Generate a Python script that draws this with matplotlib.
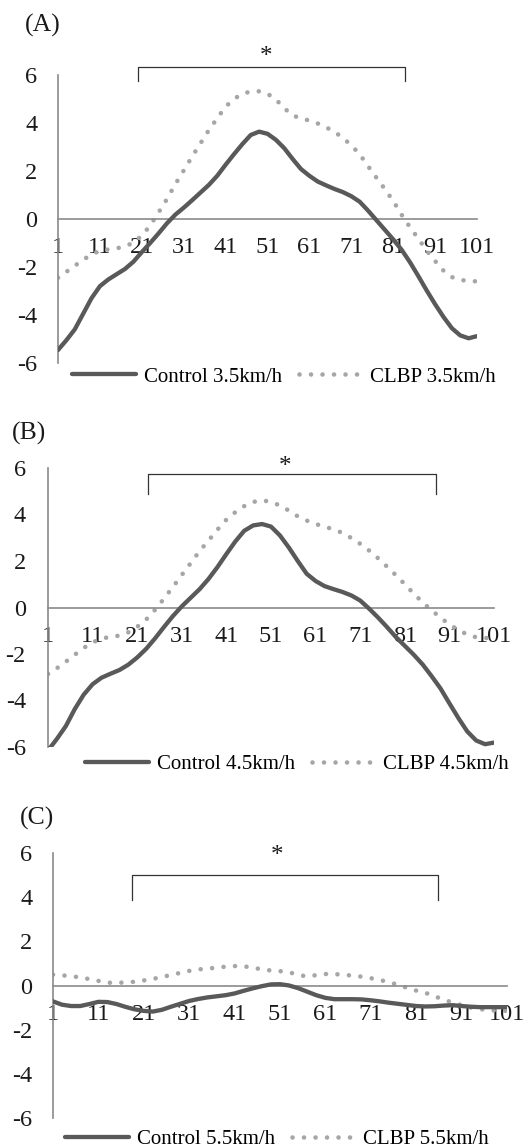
import numpy as np
import matplotlib
matplotlib.use("Agg")
import matplotlib.pyplot as plt

plt.rcParams['font.family'] = ['Liberation Serif', 'DejaVu Serif']

# percent of gait cycle, read every 2 %
pct = list(range(1, 102, 2))

control_35 = [-5.46, -5.05, -4.6, -3.95, -3.3, -2.8, -2.52, -2.3, -2.08, -1.78,
              -1.38, -1.0, -0.6, -0.18, 0.18, 0.47, 0.78, 1.1, 1.42, 1.8,
              2.26, 2.7, 3.12, 3.5, 3.64, 3.55, 3.3, 2.95, 2.5, 2.08,
              1.8, 1.56, 1.4, 1.25, 1.12, 0.95, 0.72, 0.35, -0.05, -0.45,
              -0.85, -1.28, -1.8, -2.38, -2.98, -3.55, -4.08, -4.55, -4.85, -4.97, -4.88]
clbp_35 = [-2.45, -2.2, -1.95, -1.7, -1.48, -1.32, -1.27, -1.22, -1.15, -0.98,
           -0.7, -0.27, 0.27, 0.83, 1.45, 2.02, 2.6, 3.15, 3.7, 4.2,
           4.68, 5.0, 5.22, 5.31, 5.32, 5.22, 4.98, 4.62, 4.31, 4.2,
           4.1, 3.98, 3.82, 3.63, 3.38, 3.07, 2.7, 2.2, 1.72, 1.25,
           0.75, 0.18, -0.34, -0.82, -1.32, -1.75, -2.15, -2.42, -2.54, -2.58, -2.6]

control_45 = [-6.15, -5.65, -5.1, -4.37, -3.75, -3.3, -3.02, -2.85, -2.69, -2.46,
              -2.15, -1.78, -1.33, -0.84, -0.37, 0.05, 0.42, 0.79, 1.23, 1.74,
              2.3, 2.84, 3.3, 3.53, 3.59, 3.48, 3.1, 2.58, 2.0, 1.45,
              1.14, 0.92, 0.79, 0.67, 0.52, 0.3, -0.05, -0.43, -0.84, -1.27,
              -1.65, -2.03, -2.45, -2.95, -3.48, -4.12, -4.75, -5.33, -5.72, -5.88, -5.81]
clbp_45 = [-2.86, -2.61, -2.33, -2.03, -1.74, -1.5, -1.34, -1.26, -1.21, -1.07,
           -0.83, -0.52, -0.1, 0.38, 0.88, 1.4, 1.91, 2.43, 2.88, 3.35,
           3.78, 4.1, 4.36, 4.54, 4.61, 4.54, 4.39, 4.17, 3.92, 3.74,
           3.59, 3.48, 3.36, 3.21, 2.99, 2.74, 2.45, 2.12, 1.76, 1.39,
           1.0, 0.6, 0.22, -0.12, -0.43, -0.73, -0.97, -1.16, -1.28, -1.31, -1.32]

control_55 = [-0.72, -0.87, -0.93, -0.93, -0.84, -0.74, -0.75, -0.84, -0.97, -1.08,
              -1.15, -1.18, -1.1, -0.96, -0.83, -0.7, -0.61, -0.54, -0.49, -0.44,
              -0.36, -0.24, -0.13, -0.03, 0.05, 0.06, 0.0, -0.12, -0.28, -0.44,
              -0.56, -0.62, -0.62, -0.62, -0.63, -0.67, -0.72, -0.78, -0.83, -0.88,
              -0.93, -0.95, -0.94, -0.91, -0.89, -0.93, -0.96, -0.98, -0.98, -0.98, -0.98]
clbp_55 = [0.49, 0.46, 0.42, 0.37, 0.29, 0.21, 0.13, 0.12, 0.14, 0.17,
           0.23, 0.3, 0.38, 0.48, 0.57, 0.66, 0.73, 0.76, 0.81, 0.85,
           0.88, 0.87, 0.81, 0.73, 0.68, 0.65, 0.6, 0.48, 0.41, 0.47,
           0.52, 0.52, 0.48, 0.45, 0.4, 0.33, 0.25, 0.15, 0.03, -0.11,
           -0.23, -0.33, -0.48, -0.64, -0.77, -0.89, -1.0, -1.07, -1.12, -1.14, -1.15]

speeds = ["3.5km/h", "4.5km/h", "5.5km/h"]
panel_labels = ["(A)", "(B)", "(C)"]
x_ticks = [1, 11, 21, 31, 41, 51, 61, 71, 81, 91, 101]
y_ticks = [-6, -4, -2, 0, 2, 4, 6]

# significant region (start, end) for each speed
sig_ranges = [(20.1, 83.8), (23.4, 88.0), (18.3, 85.9)]

W, H = 530, 1147
CONTROL_COLOR = '#595959'
CLBP_COLOR = '#a6a6a6'
AXIS_COLOR = '#8a8a8a'
TEXT_COLOR = '#1a1a1a'


def px(x, y):
    # pixel position -> figure fraction
    return x / W, 1 - y / H


def drawPanel(fig, rect, control, clbp, speed, label, labelPos, sig, bracketY, star, legendPos, yPad):
    left, top, right, bottom = rect
    ax = fig.add_axes([left / W, 1 - bottom / H, (right - left) / W, (bottom - top) / H])
    ax.plot(pct, control, color=CONTROL_COLOR, lw=3.1, solid_capstyle='round',
            solid_joinstyle='round', label="Control " + speed, zorder=3)
    ax.plot(pct, clbp, color=CLBP_COLOR, lw=3.3, linestyle=(0, (0.01, 2.5)),
            dash_capstyle='round', label="CLBP " + speed, zorder=2)

    ax.set_xlim(1, 101)
    ax.set_ylim(-6, 6)
    for side in ['top', 'right']:
        ax.spines[side].set_visible(False)
    ax.spines['bottom'].set_position(('data', 0))
    for side in ['bottom', 'left']:
        ax.spines[side].set_color(AXIS_COLOR)
        ax.spines[side].set_linewidth(1.2)
    ax.set_xticks(x_ticks)
    ax.set_yticks(y_ticks)
    ax.set_yticklabels([str(v) for v in y_ticks])
    ax.tick_params(axis='x', length=0, pad=13, labelsize=17.5, colors=TEXT_COLOR)
    ax.tick_params(axis='y', length=0, pad=yPad, labelsize=17.5, colors=TEXT_COLOR)
    ax.patch.set_visible(False)

    # significance bracket
    x0, x1 = sig
    yb, yt = bracketY
    ax.plot([x0, x0, x1, x1], [yb, yt, yt, yb], color='#333333', lw=0.9, clip_on=False)
    ax.text(star[0], star[1], "*", ha='center', va='center', fontsize=18,
            color=TEXT_COLOR, clip_on=False)

    fig.text(*px(*labelPos), label, ha='center', va='center', fontsize=18.5, color=TEXT_COLOR)

    ax.legend(loc='center', bbox_to_anchor=px(*legendPos), bbox_transform=fig.transFigure,
              ncol=2, frameon=False, fontsize=15, handlelength=3.1, handletextpad=0.35,
              columnspacing=0.8, borderpad=0, borderaxespad=0)
    return ax


fig = plt.figure(figsize=(W / 100, H / 100), dpi=100)

drawPanel(fig, (58, 75, 477, 363), control_35, clbp_35, speeds[0], panel_labels[0], (43, 25),
          sig_ranges[0], (5.75, 6.33), (50.7, 6.75), (284, 377), 15)
drawPanel(fig, (48, 468, 494, 747), control_45, clbp_45, speeds[1], panel_labels[1], (29, 433),
          sig_ranges[1], (4.9, 5.75), (54.2, 6.05), (297, 764), 16)
drawPanel(fig, (53, 853, 507, 1118), control_55, clbp_55, speeds[2], panel_labels[2], (37, 818),
          sig_ranges[2], (3.88, 5.02), (50.3, 5.85), (277, 1139), 15)

fig.savefig("out.png", dpi=100)
